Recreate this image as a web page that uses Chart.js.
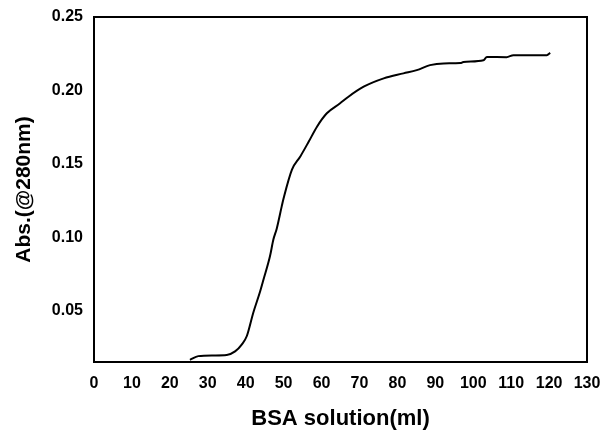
<!DOCTYPE html>
<html>
<head>
<meta charset="utf-8">
<script src="https://cdn.jsdelivr.net/npm/chart.js@4"></script>
<style>
    html, body { margin: 0; padding: 0; background: #fff; }
    #wrap { width: 611px; height: 432px; }
</style>
</head>
<body>
<div id="wrap"><canvas id="bsaChart"></canvas></div>
<script>
// BSA breakthrough curve
const volumeMl = [25.3, 27.5, 31.5, 35, 37.2, 39, 40.3, 42, 43.8, 44.7, 46.4, 47.3, 48.2, 49.5, 50,
    52.2, 54.4, 56.6, 58.8, 61.4, 64.9, 67.1, 71.1, 76.4, 81.6, 85.1, 88.6, 92.2, 96.6, 97.4,
    102.7, 103.6, 108.8, 110.6, 119.4, 120.3];
const absValues = [0.0165, 0.019, 0.0195, 0.0198, 0.0222, 0.027, 0.0327, 0.0486, 0.063, 0.0712, 0.087, 0.0984, 0.106, 0.121, 0.1265,
    0.146, 0.155, 0.165, 0.1753, 0.1844, 0.1912, 0.1957, 0.2025, 0.2082, 0.2116, 0.2138, 0.2172, 0.2184, 0.2186, 0.2194,
    0.2206, 0.2228, 0.2226, 0.224, 0.224, 0.2256];
const yTicks = [0.05, 0.10, 0.15, 0.20, 0.25];

const points = volumeMl.map((v, i) => ({ x: v, y: absValues[i] }));

// box around the plot area
const frame = {
    id: 'frame',
    afterDraw(chart) {
        const a = chart.chartArea;
        const c = chart.ctx;
        c.save();
        c.strokeStyle = '#000';
        c.lineWidth = 2;
        c.strokeRect(a.left, a.top, a.right - a.left, a.bottom - a.top);
        c.restore();
    }
};

const boldFont = (size) => ({ family: 'Liberation Sans, Arial, sans-serif', size: size, weight: 'bold', lineHeight: 1 });

const ctx = document.getElementById('bsaChart').getContext('2d');
new Chart(ctx, {
    type: 'line',
    data: {
        datasets: [{
            data: points,
            borderColor: '#000',
            borderWidth: 2,
            pointRadius: 0,
            cubicInterpolationMode: 'monotone',
            fill: false
        }]
    },
    options: {
        responsive: true,
        maintainAspectRatio: false,
        animation: false,
        layout: { padding: { left: 10, right: 24, top: 17, bottom: 0 } },
        plugins: {
            legend: { display: false },
            tooltip: { enabled: false }
        },
        scales: {
            x: {
                type: 'linear',
                min: 0,
                max: 130,
                grid: { display: false, drawTicks: true, tickLength: 5, tickColor: '#000' },
                border: { color: '#000', width: 2 },
                ticks: { stepSize: 10, color: '#000', font: boldFont(16), padding: 9, maxRotation: 0 },
                title: { display: true, text: 'BSA solution(ml)', color: '#000', font: boldFont(22), padding: { top: 10, bottom: 2 } },
                afterFit: (scale) => { scale.height = 70; }
            },
            y: {
                type: 'linear',
                min: 0.015,
                max: 0.25,
                grid: { display: false, drawTicks: true, tickLength: 5, tickColor: '#000' },
                border: { color: '#000', width: 2 },
                afterBuildTicks: (scale) => { scale.ticks = yTicks.map(v => ({ value: v })); },
                ticks: {
                    color: '#000',
                    font: boldFont(16),
                    padding: 6,
                    callback: (v) => v.toFixed(2)
                },
                title: { display: true, text: 'Abs.(@280nm)', color: '#000', font: boldFont(21), padding: { top: 4, bottom: 8 } },
                afterFit: (scale) => { scale.width = 84; }
            }
        }
    },
    plugins: [frame]
});
</script>
</body>
</html>
